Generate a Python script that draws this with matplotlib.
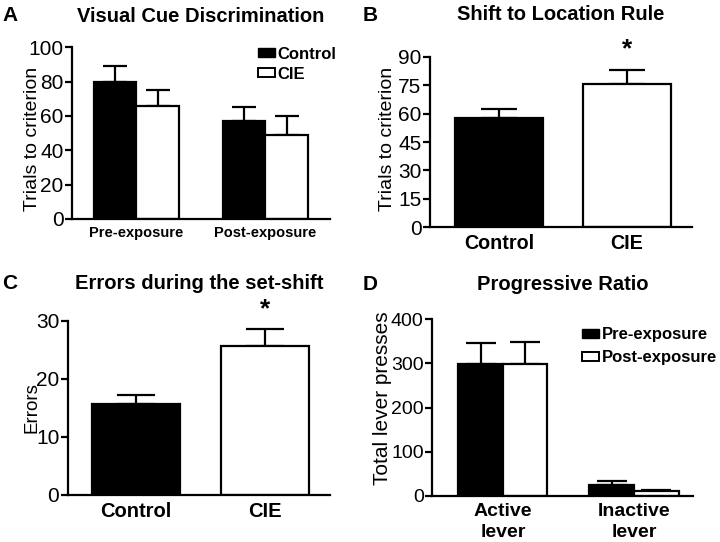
import numpy as np
import matplotlib
matplotlib.use("Agg")
import matplotlib.pyplot as plt
from matplotlib.patches import Patch

plt.rcParams.update({
    'font.family': ['Liberation Sans', 'DejaVu Sans'],
    'axes.linewidth': 1.6,
    'ytick.major.width': 1.6,
    'ytick.major.size': 5,
})

# Panel A: visual cue discrimination
a_groups = ['Pre-exposure', 'Post-exposure']
a_control = [80, 57]
a_control_err = [9, 8]
a_cie = [66, 49]
a_cie_err = [9, 11]

# Panel B: shift to location rule
b_groups = ['Control', 'CIE']
b_vals = [57.5, 75.7]
b_err = [5, 7.3]

# Panel C: errors during the set-shift
c_groups = ['Control', 'CIE']
c_vals = [15.7, 25.7]
c_err = [1.5, 2.9]

# Panel D: progressive ratio
d_groups = ['Active\nlever', 'Inactive\nlever']
d_pre = [298, 24]
d_pre_err = [48, 10]
d_post = [298, 11]
d_post_err = [50, 3]

fig = plt.figure(figsize=(7.2, 5.42), dpi=100)

axA = fig.add_axes([0.100, 0.596, 0.358, 0.317])
axB = fig.add_axes([0.597, 0.581, 0.364, 0.314])
axC = fig.add_axes([0.094, 0.087, 0.364, 0.321])
axD = fig.add_axes([0.600, 0.085, 0.3625, 0.326])


def style(ax, tsize):
    for s in ['top', 'right']:
        ax.spines[s].set_visible(False)
    ax.tick_params(axis='x', length=0, pad=5)
    ax.tick_params(axis='y', labelsize=tsize, pad=1)


def up_err(ax, x, y, e, cap):
    ax.errorbar(x, y, yerr=[np.zeros(len(e)), e], fmt='none', ecolor='black',
                elinewidth=1.6, capsize=cap, capthick=1.6, zorder=1)


def legend(ax, labels, anchor, spacing):
    ax.legend(handles=[Patch(facecolor='black', edgecolor='black', label=labels[0]),
                       Patch(facecolor='white', edgecolor='black', linewidth=1.4, label=labels[1])],
              loc='upper left', bbox_to_anchor=anchor, bbox_transform=fig.transFigure,
              frameon=False, prop={'size': 12, 'weight': 'bold'}, borderpad=0,
              borderaxespad=0, handlelength=1.05, handleheight=0.5,
              handletextpad=0.15, labelspacing=spacing)


bar_kw = dict(edgecolor='black', linewidth=1.6, zorder=2)
title_kw = dict(fontsize=14.5, fontweight='bold')

# A
x = np.arange(len(a_groups))
w = 0.33
up_err(axA, x - w / 2, a_control, a_control_err, 8.5)
up_err(axA, x + w / 2, a_cie, a_cie_err, 8.5)
axA.bar(x - w / 2, a_control, w, color='black', **bar_kw)
axA.bar(x + w / 2, a_cie, w, color='white', **bar_kw)
axA.set_xlim(-0.5, 1.5)
axA.set_ylim(0, 100)
axA.set_yticks([0, 20, 40, 60, 80, 100])
axA.set_xticks(x)
axA.set_xticklabels(a_groups, fontsize=10.5, fontweight='bold')
axA.set_ylabel('Trials to criterion', fontsize=14)
axA.yaxis.set_label_coords(-0.12, 0.465)
style(axA, 15)
legend(axA, ['Control', 'CIE'], (0.358, 0.914), 0.3)
axA.set_title('Visual Cue Discrimination', pad=18, **title_kw)

# B
x = np.arange(len(b_groups))
w = 0.69
up_err(axB, x, b_vals, b_err, 13)
axB.bar(x, b_vals, w, color=['black', 'white'], **bar_kw)
axB.set_xlim(-0.54, 1.51)
axB.set_ylim(0, 90)
axB.set_yticks(np.arange(0, 91, 15))
axB.set_xticks(x)
axB.set_xticklabels(b_groups, fontsize=14.2, fontweight='bold')
axB.set_ylabel('Trials to criterion', fontsize=14)
axB.yaxis.set_label_coords(-0.13, 0.518)
style(axB, 15)
axB.text(x[1], 94, '*', ha='center', va='center', fontsize=19, fontweight='bold')
axB.set_title('Shift to Location Rule', pad=26.5, **title_kw)

# C
x = np.arange(len(c_groups))
w = 0.68
up_err(axC, x, c_vals, c_err, 14)
axC.bar(x, c_vals, w, color=['black', 'white'], **bar_kw)
axC.set_xlim(-0.53, 1.5)
axC.set_ylim(0, 30)
axC.set_yticks([0, 10, 20, 30])
axC.set_xticks(x)
axC.set_xticklabels(c_groups, fontsize=14.5, fontweight='bold')
axC.set_ylabel('Errors', fontsize=13.5)
axC.yaxis.set_label_coords(-0.104, 0.5)
style(axC, 15)
axC.text(x[1], 32, '*', ha='center', va='center', fontsize=19, fontweight='bold')
axC.set_title('Errors during the set-shift', pad=23, **title_kw)

# D
x = np.arange(len(d_groups))
w = 0.34
up_err(axD, x - w / 2, d_pre, d_pre_err, 11)
up_err(axD, x + w / 2, d_post, d_post_err, 11)
axD.bar(x - w / 2, d_pre, w, color='black', **bar_kw)
axD.bar(x + w / 2, d_post, w, color='white', **bar_kw)
axD.set_xlim(-0.54, 1.45)
axD.set_ylim(0, 400)
axD.set_yticks([0, 100, 200, 300, 400])
axD.set_xticks(x)
axD.set_xticklabels(d_groups, fontsize=14, fontweight='bold', linespacing=1.33)
axD.set_ylabel('Total lever presses', fontsize=15)
axD.yaxis.set_label_coords(-0.153, 0.554)
style(axD, 14)
legend(axD, ['Pre-exposure', 'Post-exposure'], (0.808, 0.396), 0.48)
axD.set_title('Progressive Ratio', pad=21, **title_kw)

# panel letters
for lab, (px, py) in zip('ABCD', [(0.004, 0.962), (0.503, 0.962), (0.003, 0.467), (0.503, 0.465)]):
    fig.text(px, py, lab, fontsize=15, fontweight='bold', ha='left', va='baseline')

fig.savefig('out.png', dpi=100)
